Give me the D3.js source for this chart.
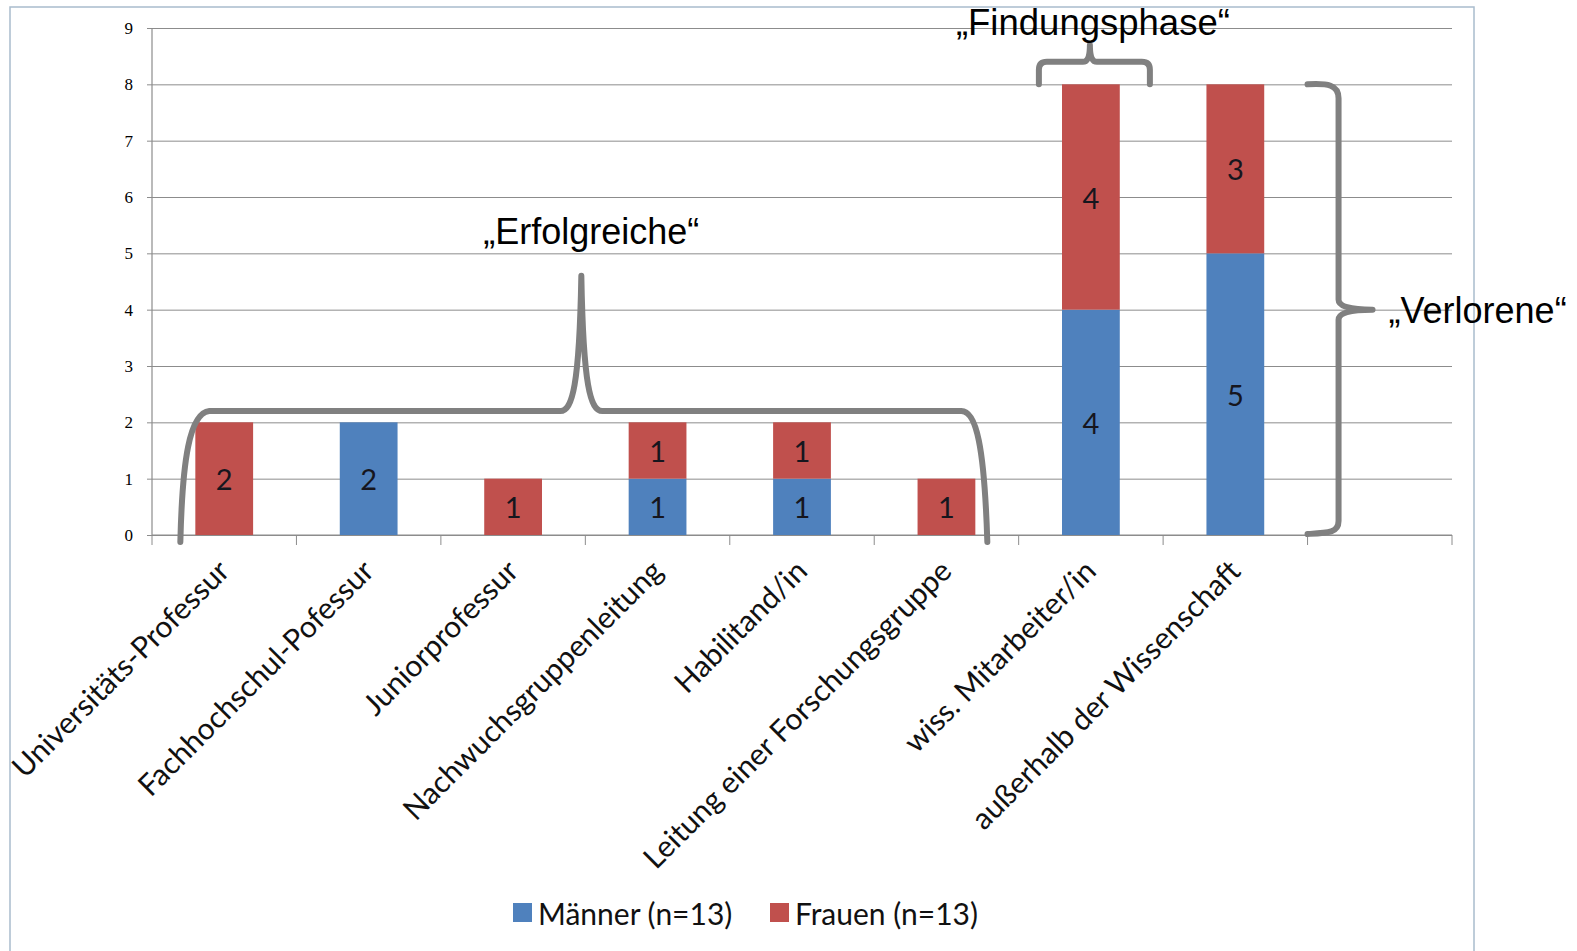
<!DOCTYPE html>
<html lang="de">
<head>
<meta charset="utf-8">
<title>Karrierewege nach Geschlecht</title>
<script src="https://cdn.jsdelivr.net/npm/d3@7"></script>
<style>
  html, body { margin: 0; padding: 0; background: #ffffff; }
  svg { display: block; }
</style>
</head>
<body>
<svg id="chart" width="1577" height="951"></svg>
<script>
// Current position of each respondent (counts per category)
const categories = [
  "Universitäts-Professur",
  "Fachhochschul-Pofessur",
  "Juniorprofessur",
  "Nachwuchsgruppenleitung",
  "Habilitand/in",
  "Leitung einer Forschungsgruppe",
  "wiss. Mitarbeiter/in",
  "außerhalb der Wissenschaft",
  ""
];
const maenner = [0, 2, 0, 1, 1, 0, 4, 5, 0];
const frauen  = [2, 0, 1, 1, 1, 1, 4, 3, 0];
const seriesKeys   = ["maenner", "frauen"];
const seriesLabels = ["Männer (n=13)", "Frauen (n=13)"];
const seriesColors = ["#4F81BD", "#C0504D"];
const yTicks = [0, 1, 2, 3, 4, 5, 6, 7, 8, 9];
const groupLabels = ["„Erfolgreiche“", "„Findungsphase“", "„Verlorene“"];

const svg = d3.select("#chart");
const plot = { left: 152, right: 1452, top: 28, bottom: 535 };

const x = d3.scaleBand().domain(categories).range([plot.left, plot.right]).padding(0);
const y = d3.scaleLinear().domain([0, 9]).range([plot.bottom, plot.top]);
const color = d3.scaleOrdinal().domain(seriesKeys).range(seriesColors);

const rows = categories.map((c, i) => ({ cat: c, maenner: maenner[i], frauen: frauen[i] }));
const stacked = d3.stack().keys(seriesKeys)(rows);

const barW = x.bandwidth() * 0.4;
const barX = c => x(c) + (x.bandwidth() - barW) / 2;
const mid = c => x(c) + x.bandwidth() / 2;

// outer frame
svg.append("rect")
  .attr("x", 10).attr("y", 7).attr("width", 1464).attr("height", 960)
  .attr("fill", "none").attr("stroke", "#a9bccd").attr("stroke-width", 1.5);

// horizontal gridlines with short tick stubs on the value axis
const yAxis = d3.axisLeft(y).tickValues(yTicks).tickSize(plot.right - plot.left + 5).tickPadding(14);
const gy = svg.append("g").attr("transform", `translate(${plot.right},0)`).call(yAxis);
gy.select(".domain").remove();
gy.selectAll(".tick line").attr("stroke", "#8c8c8c").attr("stroke-width", 1);
gy.selectAll(".tick text")
  .attr("font-family", "'Liberation Serif', 'DejaVu Serif', serif")
  .attr("font-size", 17).attr("fill", "#000");

// vertical value axis line
svg.append("line")
  .attr("x1", plot.left).attr("x2", plot.left)
  .attr("y1", y(9)).attr("y2", y(0))
  .attr("stroke", "#8c8c8c").attr("stroke-width", 1.2);

// category axis with ticks at slot boundaries
const boundaries = categories.map(c => x(c)).concat([plot.right]);
svg.append("line")
  .attr("x1", plot.left).attr("x2", plot.right)
  .attr("y1", y(0)).attr("y2", y(0))
  .attr("stroke", "#8c8c8c").attr("stroke-width", 1.2);
svg.append("g").selectAll("line").data(boundaries).join("line")
  .attr("x1", d => d).attr("x2", d => d)
  .attr("y1", y(0)).attr("y2", y(0) + 10)
  .attr("stroke", "#8c8c8c").attr("stroke-width", 1);

// stacked bars
const layers = svg.append("g").selectAll("g").data(stacked).join("g")
  .attr("fill", d => color(d.key));
layers.selectAll("rect").data(d => d.filter(s => s[1] - s[0] > 0)).join("rect")
  .attr("x", d => barX(d.data.cat))
  .attr("width", barW)
  .attr("y", d => y(d[1]))
  .attr("height", d => y(d[0]) - y(d[1]));

// value labels inside each segment
const segs = stacked.flatMap(layer => layer.map(s => ({ cat: s.data.cat, lo: s[0], hi: s[1], v: s[1] - s[0] })))
  .filter(s => s.v > 0);
svg.append("g").selectAll("text").data(segs).join("text")
  .attr("x", d => mid(d.cat))
  .attr("y", d => y((d.lo + d.hi) / 2))
  .attr("text-anchor", "middle")
  .attr("dominant-baseline", "central")
  .attr("font-family", "Lato, 'Open Sans', sans-serif")
  .attr("font-size", 29)
  .attr("fill", "#16161e")
  .text(d => d.v);

// rotated category labels
svg.append("g").selectAll("text").data(categories.filter(c => c)).join("text")
  .attr("transform", c => `translate(${mid(c) + 7},${y(0) + 38}) rotate(-45)`)
  .attr("text-anchor", "end")
  .attr("font-family", "Lato, 'Open Sans', sans-serif")
  .attr("font-size", 30)
  .attr("fill", "#111111")
  .text(c => c);

// group braces
const braceStyle = g => g.attr("fill", "none").attr("stroke", "#808080")
  .attr("stroke-width", 6).attr("stroke-linecap", "round").attr("stroke-linejoin", "round");
const annot = svg.append("g");

// "Erfolgreiche": horizontal brace over the first six categories
{
  const xl = barX(categories[0]) - 15;
  const xr = barX(categories[5]) + barW + 12;
  const yb = y(0) + 7, yh = y(2.2), yp = y(4.6);
  const xp = x(categories[3]) - 4;
  const p = d3.path();
  p.moveTo(xl, yb);
  p.bezierCurveTo(xl + 2, yh + 50, xl + 9, yh + 2, xl + 29, yh);
  p.lineTo(xp - 21, yh);
  p.bezierCurveTo(xp - 9, yh, xp - 2, yh - 25, xp, yp);
  p.bezierCurveTo(xp + 2, yh - 25, xp + 9, yh, xp + 21, yh);
  p.lineTo(xr - 26, yh);
  p.bezierCurveTo(xr - 11, yh, xr - 3, yh + 35, xr, yb);
  annot.append("path").attr("d", p.toString()).call(braceStyle);
  annot.append("text")
    .attr("x", xp + 10).attr("y", y(5.17))
    .attr("text-anchor", "middle")
    .attr("font-family", "'Liberation Sans', Arial, sans-serif")
    .attr("font-size", 36).attr("fill", "#000")
    .text(groupLabels[0]);
}

// "Findungsphase": small brace above wiss. Mitarbeiter/in
{
  const c = categories[6];
  const xl = mid(c) - 52, xr = mid(c) + 59;
  const yb = y(8), yh = y(8.4), yp = y(8.7);
  const xp = mid(c) - 1;
  const p = d3.path();
  p.moveTo(xl, yb);
  p.lineTo(xl, yh + 8);
  p.quadraticCurveTo(xl, yh, xl + 8, yh);
  p.lineTo(xp - 7, yh);
  p.quadraticCurveTo(xp, yh, xp, yp);
  p.quadraticCurveTo(xp, yh, xp + 7, yh);
  p.lineTo(xr - 8, yh);
  p.quadraticCurveTo(xr, yh, xr, yh + 8);
  p.lineTo(xr, yb);
  annot.append("path").attr("d", p.toString()).call(braceStyle);
  annot.append("text")
    .attr("x", xp + 3).attr("y", y(8.88))
    .attr("text-anchor", "middle")
    .attr("font-family", "'Liberation Sans', Arial, sans-serif")
    .attr("font-size", 36.5).attr("fill", "#000")
    .text(groupLabels[1]);
}

// "Verlorene": vertical brace to the right of the last two bars
{
  const xl = x(categories[8]);
  const xv = xl + 31, xt = xl + 65;
  const yt = y(8), yb = y(0) - 2, ym = y(4);
  const p = d3.path();
  p.moveTo(xl, yt);
  p.bezierCurveTo(xl + 20, yt - 1, xv, yt, xv, yt + 14);
  p.lineTo(xv, ym - 10);
  p.quadraticCurveTo(xv, ym, xt, ym);
  p.quadraticCurveTo(xv, ym, xv, ym + 10);
  p.lineTo(xv, yb - 12);
  p.bezierCurveTo(xv, yb, xl + 20, yb, xl, yb + 1);
  annot.append("path").attr("d", p.toString()).call(braceStyle);
  annot.append("text")
    .attr("x", xt + 16).attr("y", y(3.77))
    .attr("text-anchor", "start")
    .attr("font-family", "'Liberation Sans', Arial, sans-serif")
    .attr("font-size", 36).attr("fill", "#000")
    .text(groupLabels[2]);
}

// legend
const legendX = [513, 770];
const legend = svg.append("g").selectAll("g").data(seriesKeys).join("g")
  .attr("transform", (d, i) => `translate(${legendX[i]},903)`);
legend.append("rect").attr("width", 19).attr("height", 19).attr("fill", d => color(d));
legend.append("text")
  .attr("x", 25).attr("y", 10)
  .attr("dominant-baseline", "central")
  .attr("font-family", "Lato, 'Open Sans', sans-serif")
  .attr("font-size", 30).attr("fill", "#111111")
  .text((d, i) => seriesLabels[i]);
</script>
</body>
</html>
